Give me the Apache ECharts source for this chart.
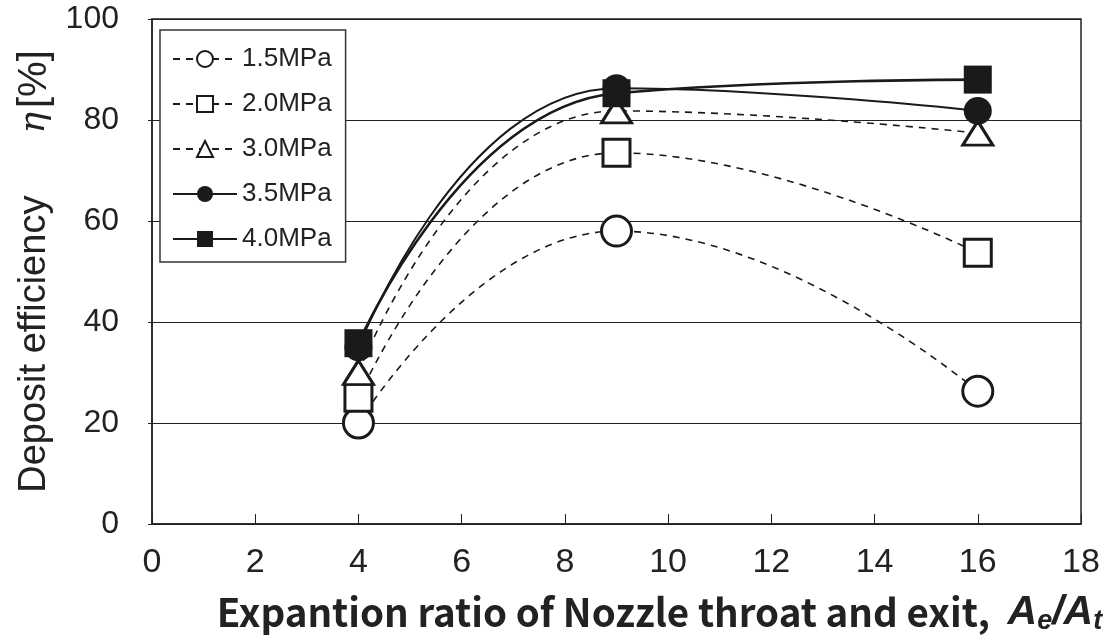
<!DOCTYPE html>
<html>
<head>
    <meta charset="utf-8">
    <title></title>
    <script src="https://cdn.jsdelivr.net/npm/echarts@6/dist/echarts.min.js"></script>
    <style>
        html, body { margin: 0; padding: 0; background: #fff; }
        #main { width: 1108px; height: 642px; }
    </style>
</head>
<body>
<div id="main"></div>
<script type="text/javascript">
    // expansion ratio Ae/At
    var ratios = [4, 9, 16];
    var p15 = [20, 58, 26.3];
    var p20 = [25, 73.5, 53.7];
    var p30 = [30, 81.8, 77.4];
    var p35 = [35, 86.3, 81.8];
    var p40 = [35.8, 85.3, 88];
    var names = ['1.5MPa', '2.0MPa', '3.0MPa', '3.5MPa', '4.0MPa'];
    var xTicks = [0, 2, 4, 6, 8, 10, 12, 14, 16, 18];
    var yTicks = [0, 20, 40, 60, 80, 100];

    function pairs(vals) {
        return ratios.map(function (x, i) { return [x, vals[i]]; });
    }

    function mkSeries(name, vals, symbol, size, open, lw) {
        return {
            name: name,
            type: 'line',
            data: pairs(vals),
            smooth: 0.5,
            symbol: symbol,
            symbolSize: size,
            showAllSymbol: true,
            lineStyle: { color: '#1a1a1a', width: lw, type: open ? [7, 6] : 'solid' },
            itemStyle: {
                color: open ? '#fff' : '#1a1a1a',
                borderColor: '#1a1a1a',
                borderWidth: open ? 3 : 0
            },
            emphasis: { disabled: true }
        };
    }

    var chart = echarts.init(document.getElementById('main'));
    var option = {
        animation: false,
        backgroundColor: '#fff',
        grid: {
            left: 152, right: 27, top: 19, bottom: 118,
            show: true, borderColor: '#222', borderWidth: 1.5
        },
        legend: {
            orient: 'vertical',
            left: 160, top: 30,
            padding: [16, 14, 10, 12],
            itemGap: 19,
            itemWidth: 64, itemHeight: 20,
            backgroundColor: '#fff',
            borderColor: '#333', borderWidth: 1.5,
            textStyle: { fontFamily: 'Liberation Sans', fontSize: 26, color: '#222' },
            data: names
        },
        xAxis: {
            type: 'value',
            min: 0, max: 18, interval: 2,
            axisLine: { lineStyle: { color: '#222', width: 1.5 } },
            axisTick: { inside: true, length: 10, lineStyle: { color: '#222' } },
            splitLine: { show: false },
            axisLabel: {
                margin: 22, fontSize: 34, color: '#222',
                fontFamily: 'Liberation Sans',
                formatter: function (v) { return xTicks.indexOf(v) >= 0 ? v : ''; }
            },
            name: 'Expantion ratio of Nozzle throat and exit,  {i|A}{s|e}{i|/A}{s|t}',
            nameLocation: 'middle',
            nameGap: 66,
            nameTextStyle: {
                fontFamily: 'Noto Sans CJK JP', fontWeight: 'bold', fontSize: 38.5, color: '#222',
                padding: [0, 0, 0, 86],
                rich: {
                    i: { fontFamily: 'Liberation Sans', fontStyle: 'italic', fontSize: 41, color: '#222' },
                    s: { fontFamily: 'Liberation Sans', fontStyle: 'italic', fontWeight: 'bold', fontSize: 27, color: '#222', verticalAlign: 'bottom', padding: [18, 0, 0, 0] }
                }
            }
        },
        yAxis: {
            type: 'value',
            min: 0, max: 100, interval: 20,
            axisLine: { lineStyle: { color: '#222', width: 1.5 } },
            axisTick: { show: true, length: 4, lineStyle: { color: '#222' } },
            splitLine: { show: true, lineStyle: { color: '#222', width: 1.2 } },
            axisLabel: {
                margin: 33, fontSize: 32, color: '#222', fontFamily: 'Liberation Sans',
                formatter: function (v) { return yTicks.indexOf(v) >= 0 ? v : ''; }
            },
            name: 'Deposit efficiency{e|η}{b|[%]}',
            nameLocation: 'middle',
            nameGap: 94,
            nameTextStyle: {
                fontFamily: 'Liberation Sans', fontSize: 38, color: '#222',
                rich: {
                    e: { fontFamily: 'DejaVu Serif', fontStyle: 'italic', fontSize: 36, color: '#222', padding: [0, 4, 0, 62] },
                    b: { fontFamily: 'Liberation Sans', fontSize: 40, color: '#222' }
                }
            }
        },
        series: [
            mkSeries(names[0], p15, 'circle', 30, true, 1.6),
            mkSeries(names[1], p20, 'rect', 27, true, 1.6),
            mkSeries(names[2], p30, 'triangle', [30, 24], true, 1.6),
            mkSeries(names[3], p35, 'circle', 28, false, 2),
            mkSeries(names[4], p40, 'rect', 28, false, 2.6)
        ]
    };
    chart.setOption(option);
    window.onresize = function () {
        chart.resize();
    };
</script>
</body>
</html>
